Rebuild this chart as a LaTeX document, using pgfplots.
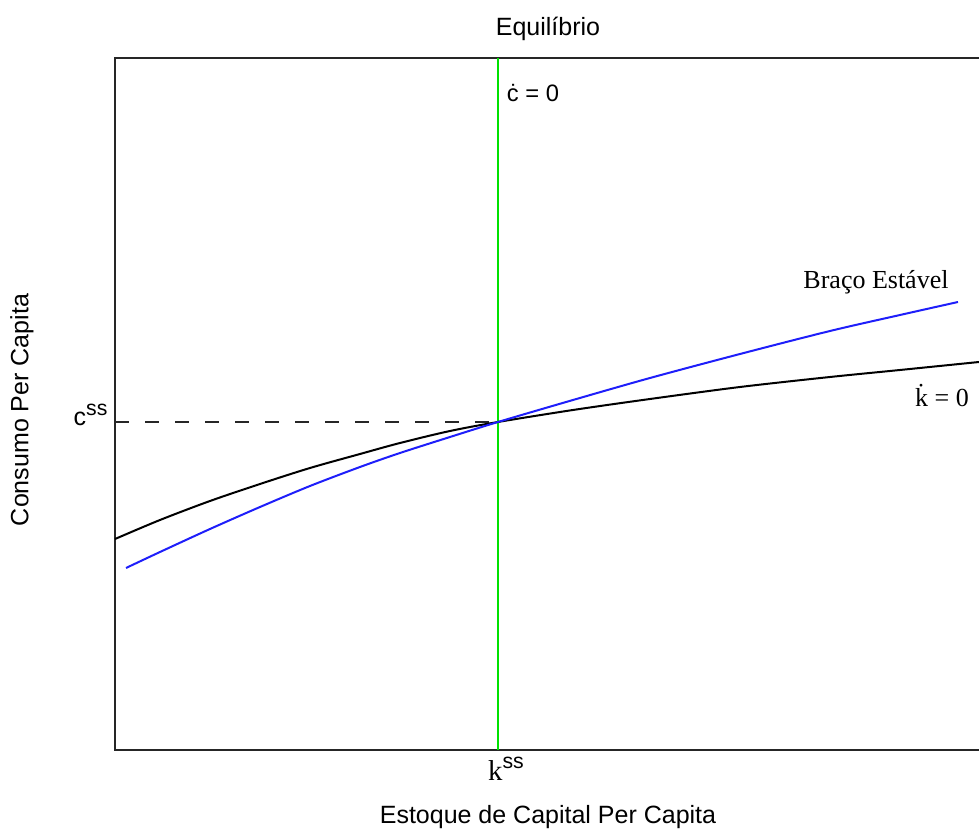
\documentclass[border=0pt]{standalone}
\usepackage{fontspec}
\setmainfont{Liberation Serif}
\setsansfont{Liberation Sans}
\usepackage{pgfplots}
\pgfplotsset{compat=1.18}
\definecolor{grn}{RGB}{0,225,0}
\definecolor{blu}{RGB}{30,30,250}
\begin{document}
\begin{tikzpicture}
\begin{axis}[
  scale only axis, width=345.6pt, height=276.8pt,
  xmin=115, xmax=979, ymin=82, ymax=774,
  hide axis, clip=false,
]
% frame (right side cut off in the reference)
\draw[line width=1pt, black!85] (axis cs:979,774) -- (axis cs:115,774) -- (axis cs:115,82) -- (axis cs:979,82);
% dashed c^ss line
\addplot[black!85, line width=1pt, dash pattern=on 5.6pt off 6.4pt] coordinates {(115,410) (498,410)};
% c-dot = 0
\addplot[grn, line width=0.8pt] coordinates {(498,82) (498,774)};
% k-dot = 0
\addplot[black, line width=0.8pt, smooth] coordinates {
(115,293) (160,312) (210,331) (260,348) (310,364) (360,378) (400,389) (450,401) (498,410)
(573,422) (650,433) (740,445) (830,455) (900,462) (979,470)};
% stable arm
\addplot[blu, line width=0.8pt, smooth] coordinates {
(126,264) (160,280) (210,303) (260,325) (310,346) (360,365) (400,379) (450,395) (498,410)
(573,432) (650,454) (740,478) (830,501) (900,517) (958,530)};
% texts
\node[font=\sffamily\fontsize{10}{12}\selectfont, anchor=base] at (axis cs:548,796) {Equilíbrio};
\node[font=\sffamily\fontsize{10}{12}\selectfont, anchor=base] at (axis cs:548,8) {Estoque de Capital Per Capita};
\node[font=\sffamily\fontsize{10}{12}\selectfont, rotate=90, anchor=center] at (axis cs:22,422) {Consumo Per Capita};
\node[font=\sffamily\fontsize{9.5}{11}\selectfont, anchor=base] at (axis cs:533,730) {\.{c} = 0};
\node[font=\rmfamily\fontsize{10.4}{12}\selectfont, anchor=base] at (axis cs:876,543) {Braço Estável};
\node[font=\rmfamily\fontsize{10.4}{12}\selectfont, anchor=base] at (axis cs:942,425) {\.{k} = 0};
\node[font=\sffamily\fontsize{10}{12}\selectfont, anchor=base east, inner sep=0pt] at (axis cs:108,406) {c\raisebox{4pt}{\fontsize{8.5}{10}\selectfont ss}};
\node[font=\rmfamily\fontsize{11.5}{13}\selectfont, anchor=base, inner sep=0pt] at (axis cs:506,51) {k\raisebox{5pt}{\sffamily\fontsize{8.5}{10}\selectfont ss}};
\coordinate (BL) at (axis cs:0,0);
\coordinate (TR) at (axis cs:979,832);
\end{axis}
\pgfresetboundingbox
\path[use as bounding box] (BL) rectangle (TR);
\end{tikzpicture}
\end{document}
